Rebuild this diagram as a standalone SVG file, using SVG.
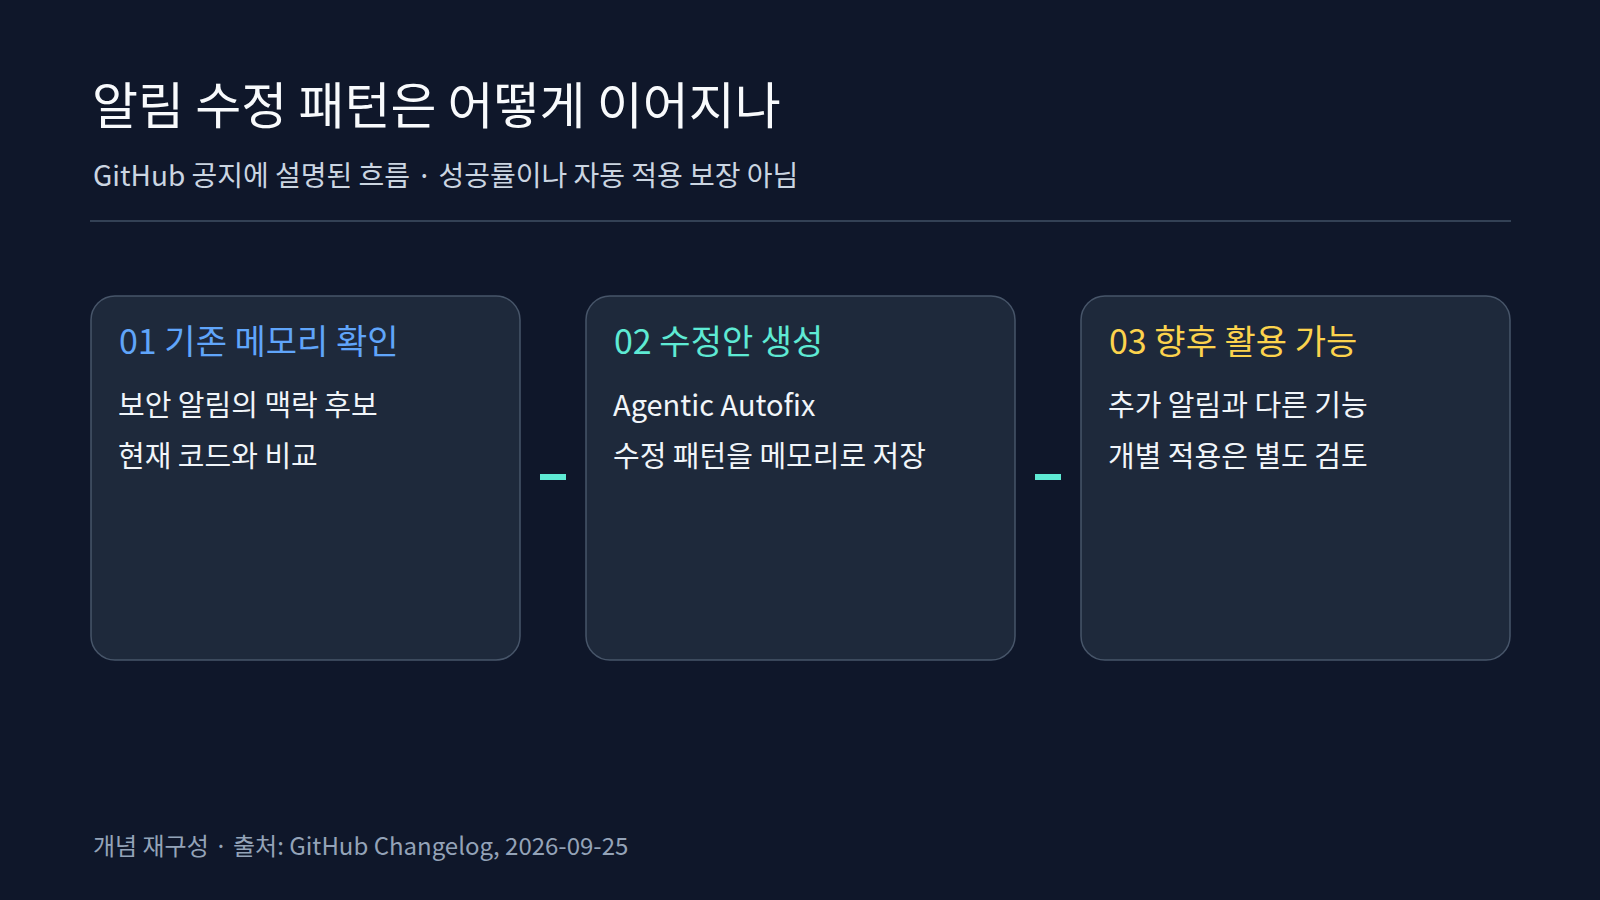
<svg xmlns="http://www.w3.org/2000/svg" width="1600" height="900" viewBox="0 0 1600 900">
<style>
text{font-family:"Noto Sans CJK KR","Noto Sans",sans-serif}
.card{fill:#1e293b;stroke:#475569;stroke-width:1.5}
.h{font-size:34px}
.b{font-size:29px;fill:#f1f5f9}
.conn{fill:#5eead4}
</style>
<rect width="1600" height="900" fill="#0f172a"/>
<text x="92" y="124" font-size="50" fill="#f8fafc">알림 수정 패턴은 어떻게 이어지나</text>
<text x="93" y="186" font-size="28" fill="#cbd5e1">GitHub 공지에 설명된 흐름 · 성공률이나 자동 적용 보장 아님</text>
<rect x="90" y="220" width="1421" height="2" fill="#334155"/>
<g id="n1"><rect class="card" x="91" y="296" width="429" height="364" rx="24"/>
<text class="h" x="119" y="354" fill="#60a5fa">01  기존 메모리 확인</text>
<text class="b" x="118" y="416">보안 알림의 맥락 후보</text>
<text class="b" x="118" y="467">현재 코드와 비교</text></g>
<g id="n2"><rect class="card" x="586" y="296" width="429" height="364" rx="24"/>
<text class="h" x="614" y="354" fill="#5eead4">02  수정안 생성</text>
<text class="b" x="613" y="416">Agentic Autofix</text>
<text class="b" x="613" y="467">수정 패턴을 메모리로 저장</text></g>
<g id="n3"><rect class="card" x="1081" y="296" width="429" height="364" rx="24"/>
<text class="h" x="1109" y="354" fill="#fcd34d">03  향후 활용 가능</text>
<text class="b" x="1108" y="416">추가 알림과 다른 기능</text>
<text class="b" x="1108" y="467">개별 적용은 별도 검토</text></g>
<g id="connectors"><rect class="conn" x="540" y="474" width="26" height="6"/><rect class="conn" x="1035" y="474" width="26" height="6"/></g>
<text x="93" y="855" font-size="24" fill="#94a3b8">개념 재구성 · 출처: GitHub Changelog, 2026-09-25</text>
</svg>
